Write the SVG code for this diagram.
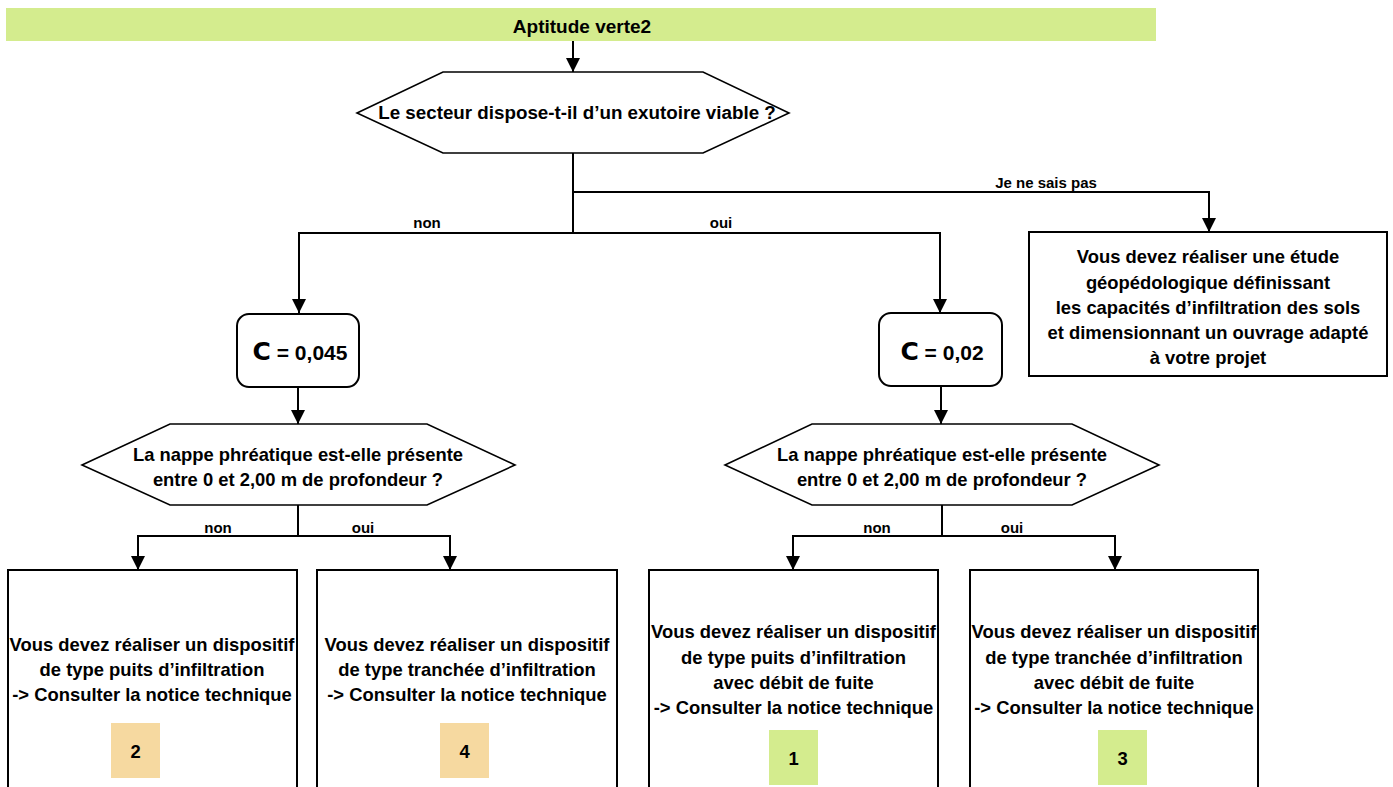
<svg xmlns="http://www.w3.org/2000/svg" width="1393" height="787" viewBox="0 0 1393 787">
<style>
text{font-family:"Liberation Sans",Arial,sans-serif;font-weight:bold;fill:#000;text-anchor:middle}
.t{font-size:18.4px}
.h{font-size:19px}
.lbl{font-size:15px}
.cv{font-size:21px}
.box{fill:#fff;stroke:#000;stroke-width:2}
.hex{fill:#fff;stroke:#000;stroke-width:1.6}
.conn{fill:none;stroke:#000;stroke-width:2}
.green{fill:#d4ec8e}
.orange{fill:#f6d9a0}
</style>
<defs>
<marker id="ah" viewBox="0 0 14 14" refX="14" refY="7" markerWidth="14" markerHeight="14" markerUnits="userSpaceOnUse" orient="auto">
<path d="M0,0 L14,7 L0,14 z" fill="#000"/>
</marker>
</defs>
<rect width="1393" height="787" fill="#fff"/>

<g id="header">
<rect x="6" y="8" width="1150" height="33" class="green"/>
<text class="h" x="582" y="33">Aptitude verte2</text>
</g>

<g id="q1">
<polygon class="hex" points="357,113 443,72 703,72 789,113 703,153 443,153"/>
<text class="t" x="577" y="119" style="font-size:18.8px">Le secteur dispose-t-il d’un exutoire viable ?</text>
</g>

<g id="etude">
<rect class="box" x="1029" y="232" width="358" height="144"/>
<text class="t" x="1208" y="263">Vous devez réaliser une étude</text>
<text class="t" x="1208" y="289">géopédologique définissant</text>
<text class="t" x="1208" y="314">les capacités d’infiltration des sols</text>
<text class="t" x="1208" y="339">et dimensionnant un ouvrage adapté</text>
<text class="t" x="1208" y="364">à votre projet</text>
</g>

<g id="c045">
<rect class="box" x="237" y="314" width="122" height="73" rx="12" ry="12"/>
<text class="cv" x="300" y="360"><tspan font-family="DejaVu Sans" font-size="25">C</tspan> = 0,045</text>
</g>

<g id="c002">
<rect class="box" x="879" y="313" width="123" height="73" rx="12" ry="12"/>
<text class="cv" x="942" y="360"><tspan font-family="DejaVu Sans" font-size="25">C</tspan> = 0,02</text>
</g>

<g id="q2">
<polygon class="hex" points="82,465 170,424 427,424 515,465 427,505 170,505"/>
<text class="t" x="298" y="461">La nappe phréatique est-elle présente</text>
<text class="t" x="298" y="486">entre 0 et 2,00 m de profondeur ?</text>
</g>

<g id="q3">
<polygon class="hex" points="725,465 812,424 1072,424 1159,465 1072,505 812,505"/>
<text class="t" x="942" y="461">La nappe phréatique est-elle présente</text>
<text class="t" x="942" y="486">entre 0 et 2,00 m de profondeur ?</text>
</g>

<g id="r2">
<rect class="box" x="8" y="570" width="289" height="240"/>
<text class="t" x="152" y="651">Vous devez réaliser un dispositif</text>
<text class="t" x="152" y="676">de type puits d’infiltration</text>
<text class="t" x="152" y="701">-&gt; Consulter la notice technique</text>
<rect class="orange" x="111" y="723" width="49" height="55"/>
<text class="t" x="135.5" y="758">2</text>
</g>

<g id="r4">
<rect class="box" x="317" y="570" width="300" height="240"/>
<text class="t" x="467" y="651">Vous devez réaliser un dispositif</text>
<text class="t" x="467" y="676">de type tranchée d’infiltration</text>
<text class="t" x="467" y="701">-&gt; Consulter la notice technique</text>
<rect class="orange" x="440" y="723" width="49" height="55"/>
<text class="t" x="464.5" y="758">4</text>
</g>

<g id="r1">
<rect class="box" x="649" y="570" width="289" height="240"/>
<text class="t" x="793.5" y="638">Vous devez réaliser un dispositif</text>
<text class="t" x="793.5" y="664">de type puits d’infiltration</text>
<text class="t" x="793.5" y="689">avec débit de fuite</text>
<text class="t" x="793.5" y="714">-&gt; Consulter la notice technique</text>
<rect class="green" x="769" y="730" width="49" height="55"/>
<text class="t" x="793.5" y="765">1</text>
</g>

<g id="r3">
<rect class="box" x="970" y="570" width="288" height="240"/>
<text class="t" x="1114" y="638">Vous devez réaliser un dispositif</text>
<text class="t" x="1114" y="664">de type tranchée d’infiltration</text>
<text class="t" x="1114" y="689">avec débit de fuite</text>
<text class="t" x="1114" y="714">-&gt; Consulter la notice technique</text>
<rect class="green" x="1098" y="730" width="49" height="55"/>
<text class="t" x="1122.5" y="765">3</text>
</g>

<g id="connectors">
<path class="conn" d="M573,41 V72" marker-end="url(#ah)"/>
<path class="conn" d="M573,153 V233"/>
<path class="conn" d="M573,192 H1209 V232" marker-end="url(#ah)"/>
<path class="conn" d="M574,233 H299 V313" marker-end="url(#ah)"/>
<path class="conn" d="M572,233 H940 V313" marker-end="url(#ah)"/>
<path class="conn" d="M298,387 V424" marker-end="url(#ah)"/>
<path class="conn" d="M941,386 V424" marker-end="url(#ah)"/>
<path class="conn" d="M298,505 V536"/>
<path class="conn" d="M299,536 H138 V570" marker-end="url(#ah)"/>
<path class="conn" d="M297,536 H450 V570" marker-end="url(#ah)"/>
<path class="conn" d="M942,505 V536"/>
<path class="conn" d="M943,536 H793 V570" marker-end="url(#ah)"/>
<path class="conn" d="M941,536 H1115 V570" marker-end="url(#ah)"/>
<text class="lbl" x="1046" y="188">Je ne sais pas</text>
<text class="lbl" x="427" y="228">non</text>
<text class="lbl" x="721" y="228">oui</text>
<text class="lbl" x="218" y="533">non</text>
<text class="lbl" x="363" y="533">oui</text>
<text class="lbl" x="877" y="533">non</text>
<text class="lbl" x="1012" y="533">oui</text>
</g>
</svg>
